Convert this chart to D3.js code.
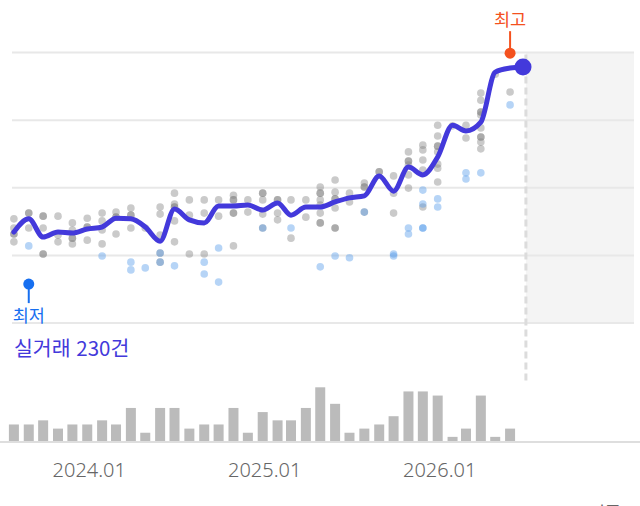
<!DOCTYPE html>
<html lang="ko">
<head>
<meta charset="UTF-8">
<title>실거래가 추이</title>
<script src="https://cdn.jsdelivr.net/npm/d3@7"></script>
<style>
  body { margin: 0; background: #fff; }
  svg { display: block; font-family: "Noto Sans CJK KR", "Noto Sans", sans-serif; }
</style>
</head>
<body>
<script>
// 월별 (2023.08 ~ 2026.06)
const months = ["2023-08", "2023-09", "2023-10", "2023-11", "2023-12",
  "2024-01", "2024-02", "2024-03", "2024-04", "2024-05", "2024-06", "2024-07",
  "2024-08", "2024-09", "2024-10", "2024-11", "2024-12",
  "2025-01", "2025-02", "2025-03", "2025-04", "2025-05", "2025-06", "2025-07",
  "2025-08", "2025-09", "2025-10", "2025-11", "2025-12",
  "2026-01", "2026-02", "2026-03", "2026-04", "2026-05", "2026-06"];

// 추세선 (만원)
const trendPrice = [116900, 120800, 115400, 116900, 116600, 117800, 118400, 121000, 120800, 118400,
  114200, 123700, 120500, 119600, 124600, 124600, 124900, 123400, 125500, 121900,
  124300, 124300, 125800, 127000, 127600, 133500, 129000, 136100, 133800, 139100,
  148500, 146800, 149400, 164200, 165400];
const lastDate = "2026-06-28";
const lastPrice = 165700;

// 거래 건별 가격 (회색)
const grayDeals = [
  [120800, 118100, 116300, 116300, 114000],
  [122500, 122500, 118100],
  [121600, 121600, 118100, 110400, 110400],
  [121600, 116000, 114000],
  [119600, 117500, 115100, 115100, 113400],
  [121000, 118400, 118400, 114500],
  [122500, 120200, 117500, 113400],
  [122800, 121300, 121300, 116300],
  [124000, 121900, 121900, 118100],
  [118100],
  [124300, 122200, 116000, 110700, 108000],
  [128400, 125200, 124300, 124300, 120200, 114000],
  [126400, 121900, 110400],
  [126400, 122500, 110400],
  [126400, 121600],
  [127800, 126400, 126400, 122500, 122500, 112800],
  [126400, 122800],
  [128400, 128400, 126400, 122200, 118100],
  [126400, 126400, 122500, 120500],
  [126400, 115100],
  [126400, 121300],
  [130200, 128400, 128400, 126400, 124900, 122500, 119600, 119600],
  [132300, 128700, 126700, 126700, 124000, 118100, 118100],
  [128400, 125800],
  [131400, 130200, 130200, 122800],
  [134700, 134700],
  [133500, 128400, 122500],
  [140600, 137900, 137900, 136700, 133800, 129900],
  [142600, 141200, 138200, 135200, 124300],
  [148500, 145300, 142300, 142300, 140600, 137000, 135800, 131700],
  [148300],
  [148500, 144700],
  [158000, 155900, 152400, 152400, 151500, 147700, 145000, 145000, 143500, 141500],
  [163600],
  [158300]
];

// 거래 건별 가격 (파랑)
const blueDeals = [
  [], [112800], [], [], [], [], [109800], [], [108000, 105700], [106300],
  [110700, 108000], [106900], [], [108000, 104500], [112200, 102100], [], [],
  [118100], [], [118100], [], [106600], [109800], [109300], [122800], [],
  [110400, 109800], [118100, 116300], [129300, 125200, 118100, 118100],
  [126700, 124300], [], [134400, 132600], [134400], [], [154500]
];

// 월별 거래량
const dealCounts = [4, 4, 5, 3, 4, 4, 5, 4, 8, 2, 8, 8, 3, 4, 4, 8, 2, 7, 5, 5,
  8, 13, 9, 2, 3, 4, 6, 12, 12, 11, 1, 3, 11, 1, 3];

const lowDeal = { month: "2023-09", price: 101500, label: "최저" };
const highDeal = { month: "2026-06", price: 169800, label: "최고" };
const gridPrices = [90000, 110000, 130000, 150000, 170000];
const xTicks = ["2024-01", "2025-01", "2026-01"];
const today = "2026-07-04";
const totalDeals = 230;

const W = 640, H = 506;
const plotLeft = 12, plotRight = 634, plotTop = 52.5, plotBottom = 323;
const barBase = 441;

const parseMonth = d3.utcParse("%Y-%m");
const parseDay = d3.utcParse("%Y-%m-%d");
const fmt = d3.utcFormat("%Y.%m");

const svg = d3.select("body").append("svg")
  .attr("width", W).attr("height", H);

const x = d3.scaleUtc()
  .domain([new Date(Date.UTC(2023, 6, 3)), new Date(Date.UTC(2027, 1, 27))])
  .range([0, W]);
const y = d3.scaleLinear().domain([90000, 170000]).range([plotBottom, plotTop]);
const h = d3.scaleLinear().domain([0, 13]).range([0, 53.7]);

const xToday = x(parseDay(today));

// 미래 구간 배경
svg.append("rect")
  .attr("x", xToday).attr("y", plotTop)
  .attr("width", plotRight - xToday).attr("height", plotBottom - plotTop)
  .attr("fill", "#f4f4f4");

// 가로 그리드
svg.append("g").selectAll("line")
  .data(gridPrices)
  .join("line")
  .attr("x1", plotLeft).attr("x2", plotRight)
  .attr("y1", d => y(d)).attr("y2", d => y(d))
  .attr("stroke", "#e8e8e8").attr("stroke-width", 2);

// 오늘 점선
svg.append("line")
  .attr("x1", xToday).attr("x2", xToday)
  .attr("y1", plotTop + 2).attr("y2", 381)
  .attr("stroke", "#dcdcdc").attr("stroke-width", 3)
  .attr("stroke-dasharray", "7,4");

// 거래량 막대
svg.append("g").selectAll("rect")
  .data(months.map((m, i) => ({ date: parseMonth(m), n: dealCounts[i] })))
  .join("rect")
  .attr("x", d => x(d.date) - 5)
  .attr("y", d => barBase - h(d.n))
  .attr("width", 10)
  .attr("height", d => h(d.n))
  .attr("fill", "#bbbbbb");

svg.append("line")
  .attr("x1", 0).attr("x2", W)
  .attr("y1", barBase + 1).attr("y2", barBase + 1)
  .attr("stroke", "#dedede").attr("stroke-width", 2);

// x축 라벨
svg.append("g").selectAll("text")
  .data(xTicks.map(parseMonth))
  .join("text")
  .attr("x", d => x(d) + 2)
  .attr("y", 476.5)
  .attr("text-anchor", "middle")
  .attr("font-family", "'Noto Sans', sans-serif")
  .attr("font-size", 20)
  .attr("font-weight", 300)
  .attr("fill", "#666")
  .text(d => fmt(d));

svg.append("text")
  .attr("x", 605).attr("y", 519)
  .attr("text-anchor", "middle")
  .attr("font-size", 17).attr("fill", "#666")
  .text("기준");

// 거래 점
const flat = (arr) => arr.flatMap((list, i) => list.map(p => ({ date: parseMonth(months[i]), price: p })));

svg.append("g").selectAll("circle")
  .data(flat(grayDeals))
  .join("circle")
  .attr("cx", d => x(d.date)).attr("cy", d => y(d.price))
  .attr("r", 3.8)
  .attr("fill", "#808080").attr("fill-opacity", 0.42);

svg.append("g").selectAll("circle")
  .data(flat(blueDeals))
  .join("circle")
  .attr("cx", d => x(d.date)).attr("cy", d => y(d.price))
  .attr("r", 3.8)
  .attr("fill", "rgb(81,153,234)").attr("fill-opacity", 0.42);

// 추세선
const trend = months.map((m, i) => ({ date: parseMonth(m), price: trendPrice[i] }));
trend.push({ date: parseDay(lastDate), price: lastPrice });

svg.append("path")
  .datum(trend)
  .attr("fill", "none")
  .attr("stroke", "#4339db")
  .attr("stroke-width", 5)
  .attr("stroke-linejoin", "round")
  .attr("stroke-linecap", "round")
  .attr("d", d3.line()
    .curve(d3.curveMonotoneX)
    .x(d => x(d.date))
    .y(d => y(d.price)));

svg.append("circle")
  .attr("cx", x(parseDay(lastDate))).attr("cy", y(lastPrice))
  .attr("r", 8.5).attr("fill", "#4339db");

// 최저 / 최고 표시
const lx = x(parseMonth(lowDeal.month)), ly = y(lowDeal.price);
svg.append("line")
  .attr("x1", lx).attr("x2", lx).attr("y1", ly).attr("y2", ly + 19)
  .attr("stroke", "#176ff0").attr("stroke-width", 2);
svg.append("circle")
  .attr("cx", lx).attr("cy", ly).attr("r", 5.5).attr("fill", "#176ff0");
svg.append("text")
  .attr("x", lx).attr("y", ly + 38)
  .attr("text-anchor", "middle")
  .attr("font-size", 17.5).attr("fill", "#176ff0")
  .text(lowDeal.label);

const hx = x(parseMonth(highDeal.month)), hy = y(highDeal.price);
svg.append("line")
  .attr("x1", hx).attr("x2", hx).attr("y1", hy).attr("y2", hy - 22)
  .attr("stroke", "#f4511e").attr("stroke-width", 2);
svg.append("circle")
  .attr("cx", hx).attr("cy", hy).attr("r", 5.5).attr("fill", "#f4511e");
svg.append("text")
  .attr("x", hx).attr("y", hy - 27)
  .attr("text-anchor", "middle")
  .attr("font-size", 17.5).attr("fill", "#f4511e")
  .text(highDeal.label);

svg.append("text")
  .attr("x", 14).attr("y", 355.5)
  .attr("font-size", 20.5).attr("fill", "#4339db")
  .text(`실거래 ${totalDeals}건`);
</script>
</body>
</html>
